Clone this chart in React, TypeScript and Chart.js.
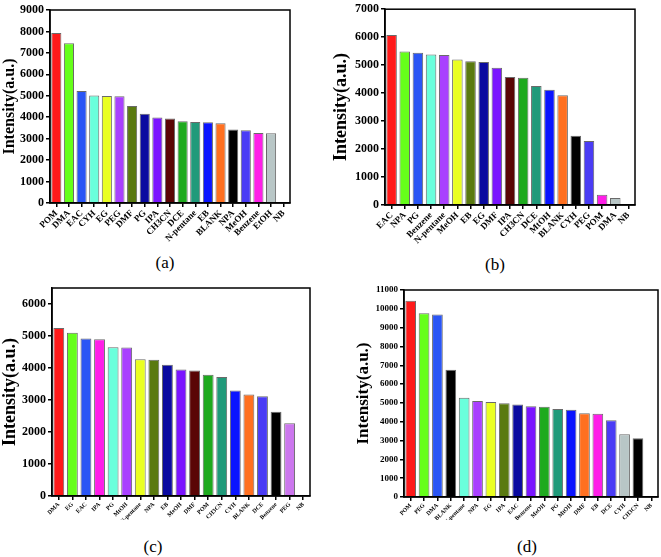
import React, { useEffect, useRef } from 'react';
import { Chart, registerables } from 'chart.js';
Chart.register(...registerables);

// ---- Data ----
const catsA = ['POM', 'DMA', 'EAC', 'CYH', 'EG', 'PEG', 'DMF', 'PG', 'IPA', 'CH3CN', 'DCE', 'N-pentane', 'EB', 'BLANK', 'NPA', 'MeOH', 'Benzene', 'EtOH', 'NB'];
const valsA = [7930, 7450, 5220, 5010, 4990, 4980, 4520, 4160, 3990, 3940, 3810, 3780, 3770, 3720, 3430, 3390, 3260, 3250, 0];
const ticksA = [0, 1000, 2000, 3000, 4000, 5000, 6000, 7000, 8000, 9000];

const catsB = ['EAC', 'NPA', 'PG', 'Benzene', 'N-pentane', 'MeOH', 'EB', 'EG', 'DMF', 'IPA', 'CH3CN', 'DCE', 'MtOH', 'BLANK', 'CYH', 'PEG', 'POM', 'DMA', 'NB'];
const valsB = [6080, 5490, 5440, 5380, 5360, 5200, 5140, 5110, 4910, 4580, 4550, 4250, 4120, 3920, 2480, 2290, 370, 250, 0];
const ticksB = [0, 1000, 2000, 3000, 4000, 5000, 6000, 7000];

const catsC = ['DMA', 'EG', 'EAC', 'IPA', 'PG', 'MtOH', 'N-pentane', 'NPA', 'EB', 'MeOH', 'DMF', 'POM', 'CH3CN', 'CYH', 'BLANK', 'DCE', 'Benzene', 'PEG', 'NB'];
const valsC = [5250, 5100, 4925, 4900, 4650, 4640, 4270, 4260, 4100, 3950, 3920, 3790, 3720, 3300, 3170, 3120, 2630, 2270, 0];
const ticksC = [0, 1000, 2000, 3000, 4000, 5000, 6000];

const catsD = ['POM', 'PEG', 'DMA', 'BLANK', 'N-pentane', 'NPA', 'EG', 'IPA', 'EAC', 'Benzene', 'MeOH', 'PG', 'MtOH', 'DMF', 'EB', 'DCE', 'CYH', 'CH3CN', 'NB'];
const valsD = [10430, 9760, 9700, 6760, 5280, 5100, 5050, 4980, 4920, 4820, 4800, 4680, 4640, 4450, 4420, 4080, 3340, 3120, 0];
const ticksD = [0, 1000, 2000, 3000, 4000, 5000, 6000, 7000, 8000, 9000, 10000, 11000];

const yTitle = 'Intensity(a.u.)';
const panelLabels = ['(a)', '(b)', '(c)', '(d)'];

// ---- Styles ----
const RED = '#ff1a1a', LIME = '#66ff1a', BLUE = '#2a55f5', AQUA = '#6affdc', YEL = '#eaff22',
  PUR = '#a940ff', OLIVE = '#5a7a10', NAVY = '#0a0aa0', VIO = '#7a14ff', DRED = '#5a0505',
  GRN = '#1eaa1e', TEAL = '#209a7a', BLU2 = '#0a14ff', ORG = '#ff7020', BLK = '#000000',
  SLATE = '#4a3cf5', MAG = '#ff1ee8', GRAY = '#b8c6c6', LIL = '#cc77ee', NONE = 'rgba(0,0,0,0)';

const colorsA = [RED, LIME, BLUE, AQUA, YEL, PUR, OLIVE, NAVY, VIO, DRED, GRN, TEAL, BLU2, ORG, BLK, SLATE, MAG, GRAY, NONE];
const colorsB = [RED, LIME, BLUE, AQUA, PUR, YEL, OLIVE, NAVY, VIO, DRED, GRN, TEAL, BLU2, ORG, BLK, SLATE, MAG, GRAY, NONE];
const colorsC = [RED, LIME, BLUE, MAG, AQUA, PUR, YEL, OLIVE, NAVY, VIO, DRED, GRN, TEAL, BLU2, ORG, SLATE, BLK, LIL, NONE];
const colorsD = [RED, LIME, BLUE, BLK, AQUA, PUR, YEL, OLIVE, NAVY, VIO, GRN, TEAL, BLU2, ORG, MAG, SLATE, GRAY, BLK, NONE];

const FONT = '"Liberation Serif", "Times New Roman", serif';

const framePlugin = {
  id: 'frame',
  afterDatasetsDraw(chart: any) {
    const { ctx, chartArea: a } = chart;
    ctx.save();
    ctx.strokeStyle = '#000';
    ctx.lineWidth = 1.5;
    ctx.strokeRect(a.left, a.top, a.right - a.left, a.bottom - a.top);
    ctx.restore();
  },
};

type PanelCfg = {
  left: number; top: number; width: number; height: number;
  cats: string[]; vals: number[]; colors: string[]; yTicks: number[];
  yMax: number; yWidth: number; xHeight: number;
  pad: { left: number; right: number; top: number; bottom: number };
  yTickSize: number; xTickSize: number; titleSize: number;
  label: string; labelX: number; labelY: number;
};

const panels: PanelCfg[] = [
  { left: 0, top: 0, width: 300, height: 250, cats: catsA, vals: valsA, colors: colorsA, yTicks: ticksA, yMax: 9000,
    yWidth: 50, xHeight: 47, pad: { left: 0, right: 10, top: 10, bottom: 0 }, yTickSize: 12, xTickSize: 9, titleSize: 16,
    label: panelLabels[0], labelX: 165, labelY: 263 },
  { left: 330, top: 0, width: 315, height: 250, cats: catsB, vals: valsB, colors: colorsB, yTicks: ticksB, yMax: 7000,
    yWidth: 54, xHeight: 45, pad: { left: 1, right: 10, top: 6, bottom: 0 }, yTickSize: 12, xTickSize: 9, titleSize: 18,
    label: panelLabels[1], labelX: 495, labelY: 265 },
  { left: 0, top: 270, width: 320, height: 250, cats: catsC, vals: valsC, colors: colorsC, yTicks: ticksC, yMax: 6500,
    yWidth: 52, xHeight: 24, pad: { left: 0, right: 10, top: 18, bottom: 0 }, yTickSize: 12, xTickSize: 6, titleSize: 18,
    label: panelLabels[2], labelX: 153, labelY: 547 },
  { left: 330, top: 270, width: 331, height: 250, cats: catsD, vals: valsD, colors: colorsD, yTicks: ticksD, yMax: 11000,
    yWidth: 51, xHeight: 23, pad: { left: 23, right: 3, top: 20, bottom: 0 }, yTickSize: 9, xTickSize: 6, titleSize: 17,
    label: panelLabels[3], labelX: 527, labelY: 547 },
];

function Panel({ cfg }: { cfg: PanelCfg }) {
  const ref = useRef<HTMLCanvasElement>(null);
  useEffect(() => {
    if (!ref.current) return;
    const chart = new Chart(ref.current, {
      type: 'bar',
      data: {
        labels: cfg.cats,
        datasets: [{
          data: cfg.vals,
          backgroundColor: cfg.colors,
          borderColor: '#6a6a6a',
          borderWidth: 1,
          barPercentage: 0.8,
          categoryPercentage: 1,
        }],
      },
      options: {
        animation: false,
        responsive: false,
        maintainAspectRatio: false,
        layout: { padding: cfg.pad },
        plugins: { legend: { display: false }, tooltip: { enabled: false }, title: { display: false } },
        scales: {
          x: {
            offset: true,
            grid: { display: true, drawOnChartArea: false, drawTicks: true, tickLength: 4, color: '#000', lineWidth: 1.5, offset: false },
            border: { display: true, color: '#000', width: 1.5 },
            ticks: {
              autoSkip: false, minRotation: 45, maxRotation: 45, padding: 1, color: '#000',
              font: { family: FONT, size: cfg.xTickSize, weight: 'bold' },
            },
            afterFit: (s: any) => { s.height = cfg.xHeight; },
          },
          y: {
            min: 0, max: cfg.yMax,
            grid: { display: true, drawOnChartArea: false, drawTicks: true, tickLength: 4, color: '#000', lineWidth: 1.5 },
            border: { display: true, color: '#000', width: 1.5 },
            ticks: {
              autoSkip: false, padding: 2, color: '#000',
              font: { family: FONT, size: cfg.yTickSize, weight: 'bold' },
              callback: (v: any) => String(v),
            },
            afterBuildTicks: (s: any) => { s.ticks = cfg.yTicks.map((v) => ({ value: v })); },
            title: { display: true, text: yTitle, color: '#000', padding: 0, font: { family: FONT, size: cfg.titleSize, weight: 'bold' } },
            afterFit: (s: any) => { s.width = cfg.yWidth; },
          },
        },
      } as any,
      plugins: [framePlugin],
    });
    return () => chart.destroy();
  }, [cfg]);
  return (
    <>
      <canvas ref={ref} width={cfg.width} height={cfg.height}
        style={{ position: 'absolute', left: cfg.left, top: cfg.top, width: cfg.width, height: cfg.height }} />
      <div style={{ position: 'absolute', left: cfg.labelX - 30, top: cfg.labelY - 11, width: 60, textAlign: 'center',
        fontFamily: FONT, fontSize: 17, lineHeight: '22px', color: '#000' }}>{cfg.label}</div>
    </>
  );
}

export default function App() {
  return (
    <div style={{ position: 'absolute', left: 0, top: 0, width: 661, height: 557, background: '#fff', overflow: 'hidden' }}>
      {panels.map((p, i) => <Panel key={i} cfg={p} />)}
    </div>
  );
}
